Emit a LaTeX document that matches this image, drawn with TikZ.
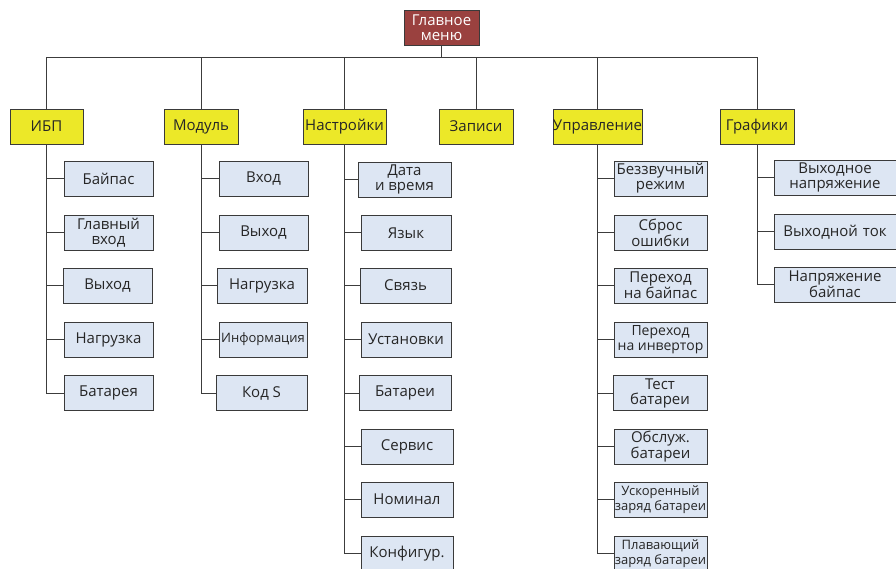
\documentclass[tikz,border=0pt]{standalone}
\usepackage{fontspec}
\setmainfont{Open Sans}
\definecolor{rootred}{HTML}{9A413F}
\definecolor{catyellow}{HTML}{ECE828}
\definecolor{leafblue}{HTML}{DDE6F3}
\definecolor{boxline}{HTML}{3A3A3A}
\definecolor{linecol}{HTML}{3C3C3C}
\definecolor{txt}{HTML}{262626}
\begin{document}
\begin{tikzpicture}[x=1pt,y=-1pt,
  box/.style={draw=boxline, line width=0.9pt, inner sep=0pt, align=center,
    font=\fontsize{15}{15}\selectfont, text=txt, minimum height=35pt},
  leaf/.style={box, fill=leafblue},
  cat/.style={box, fill=catyellow},
  small/.style={font=\fontsize{13}{13}\selectfont},
  link/.style={draw=linecol, line width=1pt}]
\clip (0,0) rectangle (896,569);
\fill[white] (0,0) rectangle (896,569);

% root
\node[box, fill=rootred, text=white, minimum width=75pt] (root) at (441.5,27.5) {Главное\\меню};

% categories
\node[cat, minimum width=73pt] (ibp) at (46.5,126.5) {ИБП};
\node[cat, minimum width=74pt] (mod) at (201,126.5) {Модуль};
\node[cat, minimum width=83pt] (nast) at (344.5,126.5) {Настройки};
\node[cat, minimum width=74pt] (zap) at (476,126.5) {Записи};
\node[cat, minimum width=89pt] (upr) at (597.5,126.5) {Управление};
\node[cat, minimum width=74pt] (graf) at (757,126.5) {Графики};

% bus
\coordinate (busy) at (0,58);
\draw[link] (root.south) -- (root.south |- busy);
\draw[link] (ibp.north) |- (busy -| graf.north) -- (graf.north);
\foreach \n in {mod,nast,zap,upr} \draw[link] (\n.north) -- (\n.north |- busy);

% ИБП
\node[leaf, minimum width=89pt] (i1) at (108.5,178.5) {Байпас};
\node[leaf, minimum width=89pt] (i2) at (108.5,233) {Главный\\вход};
\node[leaf, minimum width=89pt] (i3) at (107.5,285.5) {Выход};
\node[leaf, minimum width=89pt] (i4) at (108.5,339.5) {Нагрузка};
\node[leaf, minimum width=89pt] (i5) at (108.5,393) {Батарея};
\foreach \c in {i1,i2,i3,i4,i5} \draw[link] (ibp.south) |- (\c.west);

% Модуль
\node[leaf, minimum width=89pt] (m1) at (263.5,178.5) {Вход};
\node[leaf, minimum width=89pt] (m2) at (263.5,233) {Выход};
\node[leaf, minimum width=90pt] (m3) at (262,285.5) {Нагрузка};
\node[leaf, minimum width=88pt, small] (m4) at (263,339.5) {Информация};
\node[leaf, minimum width=91pt] (m5) at (261.5,393) {Код S};
\foreach \c in {m1,m2,m3,m4,m5} \draw[link] (mod.south) |- (\c.west);

% Настройки
\node[leaf, minimum width=93pt] (n1) at (404.5,179.5) {Дата\\и время};
\node[leaf, minimum width=90pt] (n2) at (406,233) {Язык};
\node[leaf, minimum width=91pt] (n3) at (405.5,285.5) {Связь};
\node[leaf, minimum width=90pt] (n4) at (406,339.5) {Установки};
\node[leaf, minimum width=92pt] (n5) at (405,393) {Батареи};
\node[leaf, minimum width=92pt] (n6) at (407,446.5) {Сервис};
\node[leaf, minimum width=92pt] (n7) at (407,499.5) {Номинал};
\node[leaf, minimum width=92pt] (n8) at (407,553.5) {Конфигур.};
\foreach \c in {n1,n2,n3,n4,n5,n6,n7,n8} \draw[link] (nast.south) |- (\c.west);

% Управление
\node[leaf, minimum width=93pt] (u1) at (660.5,178.5) {Беззвучный\\режим};
\node[leaf, minimum width=93pt] (u2) at (660.5,233) {Сброс\\ошибки};
\node[leaf, minimum width=93pt] (u3) at (660.5,285.5) {Переход\\на байпас};
\node[leaf, minimum width=93pt, font=\fontsize{14}{15}\selectfont] (u4) at (660.5,339.5) {Переход\\на инвертор};
\node[leaf, minimum width=94pt] (u5) at (660,393) {Тест\\батареи};
\node[leaf, minimum width=93pt] (u6) at (660.5,446.5) {Обслуж.\\батареи};
\node[leaf, minimum width=93pt, font=\fontsize{13}{14.5}\selectfont] (u7) at (660.5,499.5) {Ускоренный\\заряд батареи};
\node[leaf, minimum width=93pt, font=\fontsize{13}{14.5}\selectfont] (u8) at (660.5,553.5) {Плавающий\\заряд батареи};
\foreach \c in {u1,u2,u3,u4,u5,u6,u7,u8} \draw[link] (upr.south) |- (\c.west);

% Графики
\node[leaf, minimum width=128pt, text width=120pt, xshift=0pt] (g1) at (838,177.5) {\hspace*{-6pt}Выходное\\\hspace*{-6pt}напряжение};
\node[leaf, minimum width=128pt, text width=120pt] (g2) at (838,232) {\hspace*{-6pt}Выходной ток};
\node[leaf, minimum width=128pt, text width=120pt] (g3) at (838,284.5) {\hspace*{-6pt}Напряжение\\\hspace*{-6pt}байпас};
\foreach \c in {g1,g2,g3} \draw[link] (graf.south) |- (\c.west);
\end{tikzpicture}
\end{document}
